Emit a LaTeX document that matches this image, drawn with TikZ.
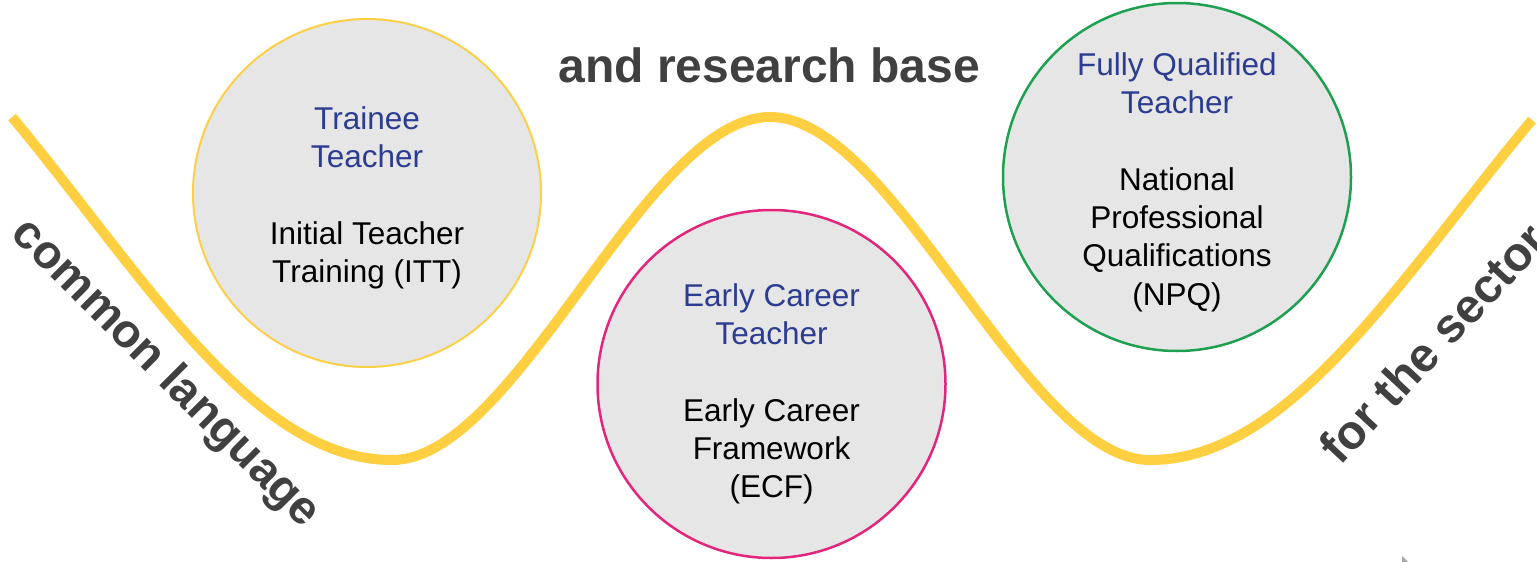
\documentclass[tikz,border=0pt]{standalone}
\usepackage{fontspec}
\setmainfont{Liberation Sans}
\definecolor{wave}{RGB}{253,207,65}
\definecolor{ittring}{RGB}{252,208,70}
\definecolor{ectring}{RGB}{226,38,125}
\definecolor{npqring}{RGB}{30,160,80}
\definecolor{discfill}{RGB}{230,230,230}
\definecolor{titleblue}{RGB}{44,60,145}
\definecolor{biggrey}{RGB}{64,64,64}
\begin{document}
\begin{tikzpicture}[x=0.5pt,y=-0.5pt,
  disc/.style={circle,fill=discfill,minimum size=174pt,inner sep=0pt},
  bodytext/.style={font=\fontsize{15.75pt}{19.15pt}\selectfont,align=center,anchor=north,inner sep=0pt,text=black},
  bigtext/.style={font=\fontsize{24pt}{28pt}\selectfont\bfseries,text=biggrey,inner sep=0pt},
  wavestyle/.style={draw=wave,line width=5pt,line cap=butt}]
\useasboundingbox (0,0) rectangle (1537,562);
% wave
\draw[wavestyle] (12,117) .. controls (142,273) and (252,460) .. (392,460)
  .. controls (517,460) and (645,117) .. (770,117)
  .. controls (895,117) and (1025,460) .. (1150,460)
  .. controls (1290,460) and (1402,276) .. (1532,120);
% discs
\node[disc,draw=ittring,line width=1pt] (itt) at (367,193) {};
\node[disc,draw=ectring,line width=1.25pt] (ect) at (771.5,384) {};
\node[disc,draw=npqring,line width=1.25pt] (npq) at (1177,177) {};
% disc texts
\node[bodytext] (ittlabel) at (367,106) {\textcolor{titleblue}{Trainee}\\\textcolor{titleblue}{Teacher}\\[19.15pt]Initial Teacher\\Training (ITT)};
\node[bodytext] (ectlabel) at (771.5,283) {\textcolor{titleblue}{Early Career}\\\textcolor{titleblue}{Teacher}\\[19.15pt]Early Career\\Framework\\(ECF)};
\node[bodytext] (npqlabel) at (1177,52) {\textcolor{titleblue}{Fully Qualified}\\\textcolor{titleblue}{Teacher}\\[19.15pt]National\\Professional\\Qualifications\\(NPQ)};
% big texts
\node[bigtext,anchor=base west] (research) at (558,83) {and research base};
\node[bigtext,font=\fontsize{23.5pt}{28pt}\selectfont\bfseries,rotate=-45] (common) at (165,374) {common language};
\node[bigtext,rotate=47] (sector) at (1433,343) {for the sector};
% tiny mark
\fill[gray!70] (1402,556) -- (1408,562) -- (1402,562) -- cycle;
\end{tikzpicture}
\end{document}
